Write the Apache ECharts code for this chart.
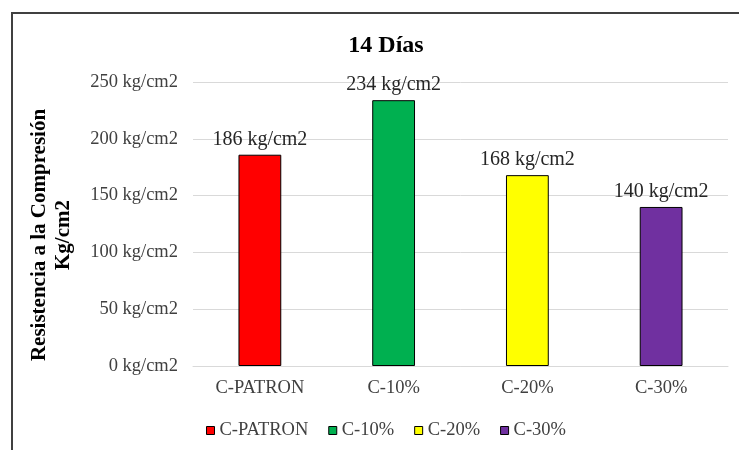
<!DOCTYPE html>
<html>
<head>
<meta charset="utf-8">
<script src="https://cdn.jsdelivr.net/npm/echarts@6/dist/echarts.min.js"></script>
<style>
  html, body { margin: 0; padding: 0; background: #ffffff; }
  #chart { width: 739px; height: 450px; }
</style>
</head>
<body>
<div id="chart"></div>
<script>
// Mixes tested at 14 days
const categories = ['C-PATRON', 'C-10%', 'C-20%', 'C-30%'];
// Compressive strength per mix (kg/cm2)
const strengthValues = [186, 234, 168, 140];
const mixColors = ['#FF0000', '#00B050', '#FFFF00', '#7030A0'];
const yTicks = { min: 0, max: 250, interval: 50 };

const serif = '"Liberation Serif", "Times New Roman", serif';

// One series per mix so each gets its own legend entry; stacking keeps the bar centred.
const series = categories.map((name, i) => ({
  name: name,
  type: 'bar',
  stack: 'mix',
  barWidth: '32%',
  data: categories.map((_, j) => (j === i ? strengthValues[i] : '-')),
  itemStyle: { color: mixColors[i], borderColor: '#000000', borderWidth: 1 },
  label: {
    show: true,
    position: 'top',
    distance: 5,
    formatter: '{c} kg/cm2',
    fontFamily: serif,
    fontSize: 20,
    color: '#262626'
  }
}));

const chart = echarts.init(document.getElementById('chart'), null, { renderer: 'canvas' });
chart.setOption({
  animation: false,
  backgroundColor: '#ffffff',
  graphic: [{
    type: 'rect',
    shape: { x: 12, y: 13, width: 800, height: 500 },
    style: { fill: 'none', stroke: '#404040', lineWidth: 2 },
    silent: true
  }],
  title: {
    text: '14 Días',
    left: 381,
    top: 29,
    textAlign: 'center',
    textStyle: { fontFamily: serif, fontWeight: 'bold', fontSize: 24, color: '#000000' }
  },
  grid: { left: 193, right: 11, top: 82, bottom: 84, containLabel: false },
  legend: {
    data: categories,
    left: 201,
    top: 416,
    itemWidth: 8,
    itemHeight: 8,
    itemGap: 20,
    icon: 'rect',
    itemStyle: { borderColor: '#000000', borderWidth: 1 },
    textStyle: { fontFamily: serif, fontSize: 18.5, color: '#404040' }
  },
  xAxis: {
    type: 'category',
    data: categories,
    axisTick: { show: false },
    axisLine: { lineStyle: { color: '#d9d9d9' } },
    axisLabel: { fontFamily: serif, fontSize: 18.5, color: '#404040', margin: 13 }
  },
  yAxis: {
    type: 'value',
    min: yTicks.min,
    max: yTicks.max,
    interval: yTicks.interval,
    name: 'Resistencia a la Compresión\nKg/cm2',
    nameLocation: 'middle',
    nameGap: 117,
    nameRotate: 90,
    nameTextStyle: {
      fontFamily: serif, fontWeight: 'bold', fontSize: 21, color: '#000000',
      lineHeight: 24, padding: [0, 22, 0, 0]
    },
    axisLine: { show: false },
    axisTick: { show: false },
    splitLine: { lineStyle: { color: '#d9d9d9' } },
    axisLabel: { fontFamily: serif, fontSize: 18.5, color: '#404040', margin: 15, formatter: '{value} kg/cm2' }
  },
  series: series
});
</script>
</body>
</html>
